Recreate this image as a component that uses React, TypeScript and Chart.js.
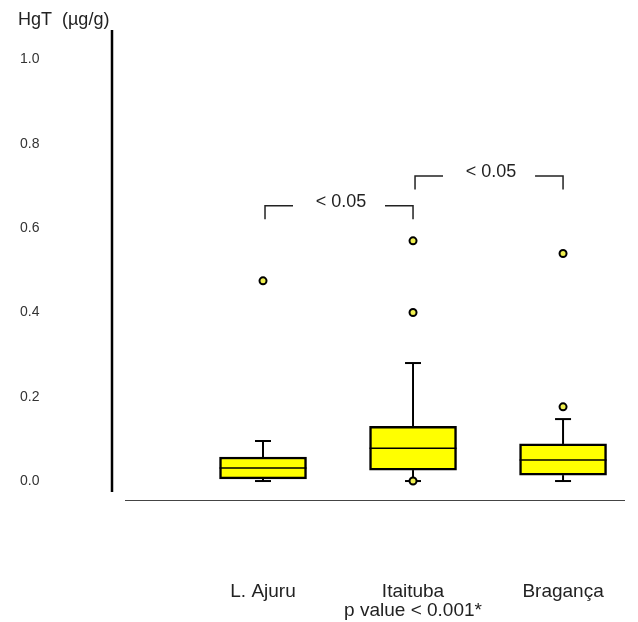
import React, { useEffect, useRef } from 'react';
import { Chart, registerables } from 'chart.js';

Chart.register(...registerables);

const categories = ['L. Ajuru', 'Itaituba', 'Bragança'];
const subLabel = 'p value < 0.001*';
const positions = [1, 2, 3];
const whiskerMin = [0.0, 0.0, 0.0];
const q1 = [0.005, 0.026, 0.014];
const median = [0.031, 0.078, 0.05];
const q3 = [0.057, 0.13, 0.088];
const whiskerMax = [0.095, 0.28, 0.147];
const outlierX = [1, 2, 2, 2, 3, 3];
const outlierY = [0.475, 0.57, 0.4, 0.0, 0.54, 0.176];
const yTicks = [0, 0.2, 0.4, 0.6, 0.8, 1.0];
const bracketFrom = [1, 2];
const bracketTo = [2, 3];
const bracketY = [0.653, 0.724];
const bracketLabels = ['< 0.05', '< 0.05'];
const yTitle = 'HgT  (µg/g)';

const FONT = "'Liberation Sans', Arial, sans-serif";

const boxPlugin = {
  id: 'boxParts',
  beforeDatasetsDraw(chart: any) {
    const ctx = chart.ctx;
    const xs = chart.scales.x;
    const ys = chart.scales.y;
    ctx.save();
    ctx.strokeStyle = '#000';
    ctx.lineWidth = 2;
    positions.forEach((p, i) => {
      const px = xs.getPixelForValue(p);
      const segs = [
        [q3[i], whiskerMax[i]],
        [q1[i], whiskerMin[i]],
      ];
      segs.forEach(([a, b]) => {
        const ya = ys.getPixelForValue(a);
        const yb = ys.getPixelForValue(b);
        ctx.beginPath();
        ctx.moveTo(px, ya);
        ctx.lineTo(px, yb);
        ctx.stroke();
        ctx.beginPath();
        ctx.moveTo(px - 8, yb);
        ctx.lineTo(px + 8, yb);
        ctx.stroke();
      });
    });
    ctx.restore();
  },
  afterDatasetsDraw(chart: any) {
    const ctx = chart.ctx;
    const xs = chart.scales.x;
    const ys = chart.scales.y;
    const meta = chart.getDatasetMeta(1);
    ctx.save();
    ctx.strokeStyle = '#000';
    ctx.lineWidth = 1.5;
    positions.forEach((p, i) => {
      const px = xs.getPixelForValue(p);
      const el = meta.data[i];
      const half = el ? el.width / 2 : 43;
      const ym = ys.getPixelForValue(median[i]);
      ctx.beginPath();
      ctx.moveTo(px - half, ym);
      ctx.lineTo(px + half, ym);
      ctx.stroke();
    });
    ctx.restore();
  },
  afterDraw(chart: any) {
    const ctx = chart.ctx;
    const xs = chart.scales.x;
    const ys = chart.scales.y;
    const area = chart.chartArea;
    ctx.save();
    // axis lines
    ctx.strokeStyle = '#000';
    ctx.lineWidth = 2.5;
    ctx.beginPath();
    ctx.moveTo(area.left - 13, area.top + 2);
    ctx.lineTo(area.left - 13, area.bottom - 8);
    ctx.stroke();
    ctx.strokeStyle = '#444';
    ctx.lineWidth = 1;
    ctx.beginPath();
    ctx.moveTo(area.left, area.bottom + 0.5);
    ctx.lineTo(area.right, area.bottom + 0.5);
    ctx.stroke();
    // title
    ctx.fillStyle = '#222';
    ctx.font = `18px ${FONT}`;
    ctx.textAlign = 'left';
    ctx.textBaseline = 'middle';
    ctx.fillText(yTitle, 18, 20);
    // brackets
    ctx.strokeStyle = '#222';
    ctx.lineWidth = 1.5;
    ctx.font = `18px ${FONT}`;
    ctx.textAlign = 'center';
    bracketFrom.forEach((f, i) => {
      const x1 = xs.getPixelForValue(f) + 2;
      const x2 = xs.getPixelForValue(bracketTo[i]);
      const y = ys.getPixelForValue(bracketY[i]);
      const yd = ys.getPixelForValue(bracketY[i] - 0.032);
      ctx.beginPath();
      ctx.moveTo(x1, yd);
      ctx.lineTo(x1, y);
      ctx.lineTo(x1 + 28, y);
      ctx.moveTo(x2 - 28, y);
      ctx.lineTo(x2, y);
      ctx.lineTo(x2, yd);
      ctx.stroke();
      ctx.fillText(bracketLabels[i], (x1 + x2) / 2 + 2, y - 4);
    });
    ctx.restore();
  },
};

export default function App() {
  const ref = useRef<HTMLCanvasElement | null>(null);
  useEffect(() => {
    document.body.style.margin = '0';
    if (!ref.current) return;
    const chart = new Chart(ref.current, {
      type: 'bar',
      data: {
        datasets: [
          {
            type: 'scatter',
            data: outlierX.map((x, i) => ({ x, y: outlierY[i] })),
            pointRadius: 3.5,
            pointBackgroundColor: '#f0f050',
            pointBorderColor: '#000',
            pointBorderWidth: 2,
          } as any,
          {
            type: 'bar',
            data: positions.map((x, i) => ({ x, y: [q1[i], q3[i]] })),
            backgroundColor: '#ffff00',
            borderColor: '#000',
            borderWidth: 2.5,
            borderSkipped: false,
            barThickness: 87,
          } as any,
        ],
      },
      options: {
        animation: false,
        responsive: false,
        layout: { padding: { left: 20, right: 13, top: 28, bottom: 0 } },
        plugins: { legend: { display: false }, tooltip: { enabled: false } },
        scales: {
          x: {
            type: 'linear',
            offset: false,
            min: 0.08,
            max: 3.413,
            grid: { display: false, drawTicks: false, offset: false },
            border: { display: false },
            afterBuildTicks: (s: any) => {
              s.ticks = positions.map((v) => ({ value: v }));
            },
            afterFit: (s: any) => {
              s.height = 122;
              s.paddingLeft = 0;
              s.paddingRight = 0;
            },
            ticks: {
              padding: 82,
              color: '#222',
              maxRotation: 0,
              autoSkip: false,
              font: { family: FONT, size: 19, lineHeight: 1.0 },
              callback: (v: any) => {
                const i = positions.indexOf(Number(v));
                if (i < 0) return '';
                return i === 1 ? [categories[i], subLabel] : categories[i];
              },
            },
          },
          y: {
            type: 'linear',
            min: -0.045,
            max: 1.075,
            grid: { display: false, drawTicks: false },
            border: { display: false },
            afterBuildTicks: (s: any) => {
              s.ticks = yTicks.map((v) => ({ value: v }));
            },
            afterFit: (s: any) => {
              s.width = 105;
              s.paddingTop = 0;
              s.paddingBottom = 0;
            },
            ticks: {
              crossAlign: 'far',
              color: '#333',
              font: { family: FONT, size: 14 },
              callback: (v: any) => Number(v).toFixed(1),
            },
          },
        },
      },
      plugins: [boxPlugin],
    });
    return () => chart.destroy();
  }, []);
  return <canvas ref={ref} width={638} height={622} style={{ display: 'block' }} />;
}
